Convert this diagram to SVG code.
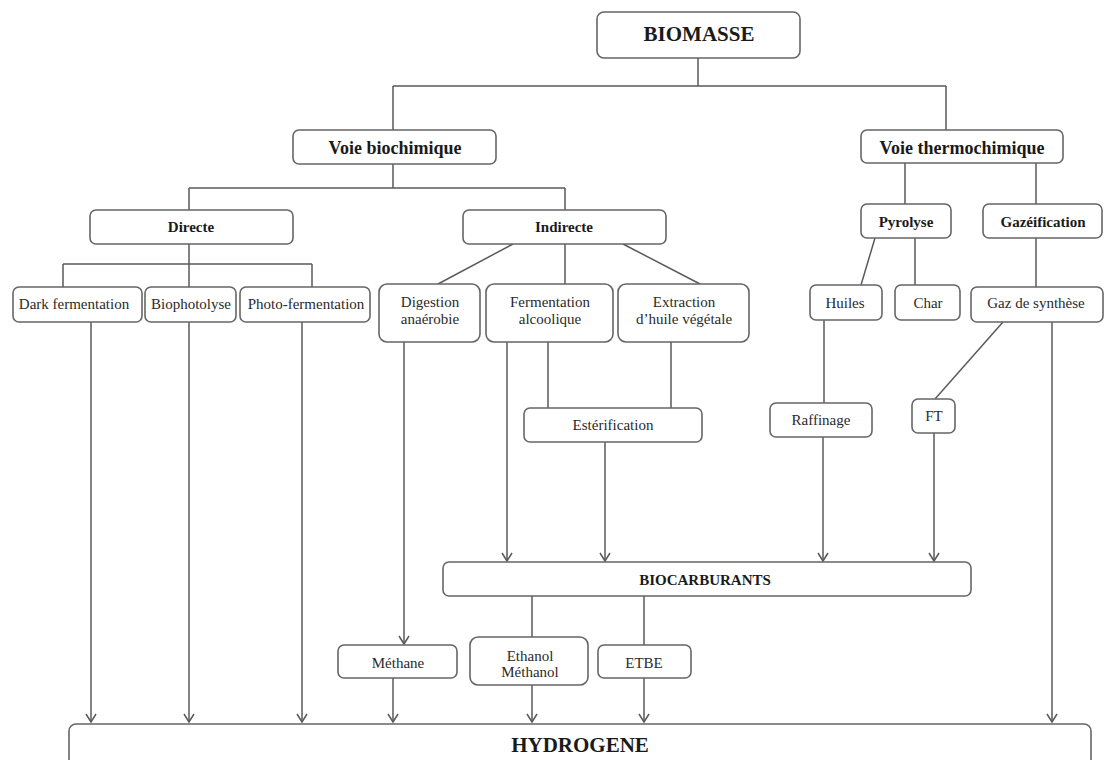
<svg xmlns="http://www.w3.org/2000/svg" width="1105" height="760" viewBox="0 0 1105 760">
<style>
.box{fill:#fff;stroke:#666;stroke-width:1.6}
.ln{fill:none;stroke:#5a5a5a;stroke-width:1.5}
.t{font-family:"Liberation Serif","Times New Roman",serif;font-size:15px;fill:#2a2a2a;text-anchor:middle}
.b{font-weight:bold;fill:#1a1a1a}
.b18{font-size:18px}
.b21{font-size:21px}
</style>
<defs>
<marker id="arr" markerUnits="userSpaceOnUse" viewBox="-10 -7 12 14" markerWidth="12" markerHeight="14" refX="0" refY="0" orient="auto">
<path d="M-8,-5 L0,0 L-8,5" fill="none" stroke="#5a5a5a" stroke-width="1.5"/>
</marker>
</defs>
<rect width="1105" height="760" fill="#fff"/>
<g id="connectors">
<path class="ln" d="M698,58V86M393,86H946M393,86V130M946,86V130M393,164V188M189,188H565M189,188V210M565,188V210M189,244V287M63,264H312M63,264V287M312,264V287M513,244L438,284M565,244V284M623,244L700,284M548,342V408M671,342V408M905,163V204M1036,163V204M875,238L861,285M915,238V285M1036,238V287M824,320V403M1003,322L935,399M532,596V637M644,596V645"/>
<g marker-end="url(#arr)">
<path class="ln" d="M91,322V722"/>
<path class="ln" d="M189,322V722"/>
<path class="ln" d="M302,322V722"/>
<path class="ln" d="M404,342V644"/>
<path class="ln" d="M393,678V722"/>
<path class="ln" d="M532,685V722"/>
<path class="ln" d="M644,678V722"/>
<path class="ln" d="M507,342V561"/>
<path class="ln" d="M605,442V561"/>
<path class="ln" d="M823,437V561"/>
<path class="ln" d="M934,433V561"/>
<path class="ln" d="M1052,322V722"/>
</g>
</g>
<g id="biomasse"><rect class="box" x="597" y="12" width="203" height="46" rx="7"/><text class="t b b21" x="699" y="41">BIOMASSE</text></g>
<g id="voie-bio"><rect class="box" x="293" y="130" width="203" height="34" rx="6"/><text class="t b b18" x="395" y="154">Voie biochimique</text></g>
<g id="voie-thermo"><rect class="box" x="861" y="130" width="202" height="33" rx="6"/><text class="t b b18" x="962" y="154">Voie thermochimique</text></g>
<g id="directe"><rect class="box" x="90" y="210" width="203" height="34" rx="6"/><text class="t b" x="191" y="232">Directe</text></g>
<g id="indirecte"><rect class="box" x="463" y="210" width="203" height="34" rx="6"/><text class="t b" x="564" y="232">Indirecte</text></g>
<g id="pyrolyse"><rect class="box" x="861" y="204" width="90" height="34" rx="6"/><text class="t b" x="906" y="227">Pyrolyse</text></g>
<g id="gazeification"><rect class="box" x="983" y="204" width="119" height="34" rx="6"/><text class="t b" x="1043" y="227">Gazéification</text></g>
<g id="dark"><rect class="box" x="13" y="287" width="129" height="35" rx="6"/><text class="t" x="74" y="309">Dark fermentation</text></g>
<g id="biophotolyse"><rect class="box" x="145" y="287" width="91" height="35" rx="6"/><text class="t" x="191" y="309">Biophotolyse</text></g>
<g id="photo"><rect class="box" x="240" y="287" width="130" height="35" rx="6"/><text class="t" x="306" y="309">Photo-fermentation</text></g>
<g id="digestion"><rect class="box" x="379" y="284" width="101" height="58" rx="8"/><text class="t" x="430" y="307">Digestion</text><text class="t" x="430" y="324">anaérobie</text></g>
<g id="fermentation"><rect class="box" x="486" y="284" width="127" height="58" rx="8"/><text class="t" x="550" y="307">Fermentation</text><text class="t" x="550" y="324">alcoolique</text></g>
<g id="extraction"><rect class="box" x="618" y="284" width="131" height="58" rx="8"/><text class="t" x="684" y="307">Extraction</text><text class="t" x="684" y="324">d’huile végétale</text></g>
<g id="huiles"><rect class="box" x="810" y="285" width="72" height="35" rx="6"/><text class="t" x="845" y="308">Huiles</text></g>
<g id="char"><rect class="box" x="895" y="285" width="65" height="35" rx="6"/><text class="t" x="928" y="308">Char</text></g>
<g id="gaz"><rect class="box" x="971" y="287" width="132" height="35" rx="6"/><text class="t" x="1036" y="308">Gaz de synthèse</text></g>
<g id="esterification"><rect class="box" x="524" y="408" width="178" height="34" rx="6"/><text class="t" x="613" y="430">Estérification</text></g>
<g id="raffinage"><rect class="box" x="770" y="403" width="102" height="34" rx="6"/><text class="t" x="821" y="425">Raffinage</text></g>
<g id="ft"><rect class="box" x="912" y="399" width="43" height="34" rx="6"/><text class="t" x="934" y="421">FT</text></g>
<g id="biocarburants"><rect class="box" x="443" y="562" width="528" height="34" rx="6"/><text class="t b" x="705" y="585">BIOCARBURANTS</text></g>
<g id="methane"><rect class="box" x="338" y="645" width="119" height="33" rx="6"/><text class="t" x="398" y="668">Méthane</text></g>
<g id="ethanol"><rect class="box" x="470" y="637" width="118" height="48" rx="8"/><text class="t" x="530" y="661">Ethanol</text><text class="t" x="530" y="677">Méthanol</text></g>
<g id="etbe"><rect class="box" x="598" y="645" width="93" height="33" rx="6"/><text class="t" x="644" y="668">ETBE</text></g>
<g id="hydrogene"><rect class="box" x="69" y="724" width="1022" height="60" rx="7"/><text class="t b b21" x="580" y="752">HYDROGENE</text></g>
</svg>
